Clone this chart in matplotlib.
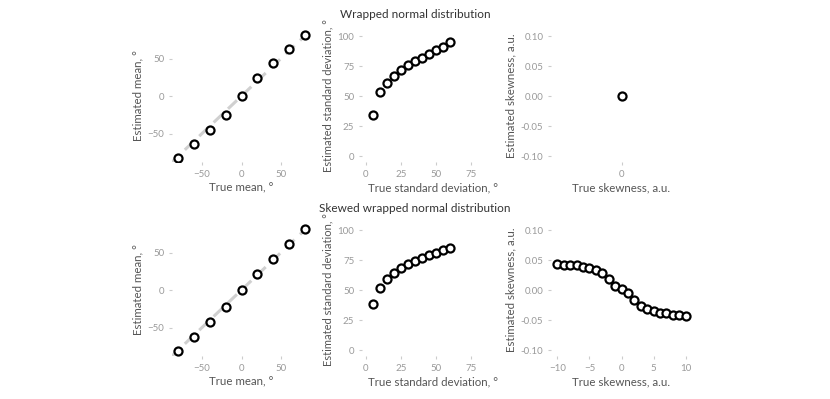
import matplotlib.pyplot as plt
import numpy as np

plt.rcParams["font.family"] = ["Lato", "DejaVu Sans"]

# Wrapped normal distribution (top row)
true_mean = [-80, -60, -40, -20, 0, 20, 40, 60, 80]
est_mean_wn = [-82, -64, -45, -25, 0, 24, 44, 63, 81]
true_sd = [5, 10, 15, 20, 25, 30, 35, 40, 45, 50, 55, 60]
est_sd_wn = [34, 53, 61, 67, 72, 76, 79, 82, 85, 88, 91, 95]
true_skew_wn = [0]
est_skew_wn = [0.0]

# Skewed wrapped normal distribution (bottom row)
est_mean_swn = [-81, -62, -42, -22, 0, 22, 42, 61, 81]
est_sd_swn = [38, 52, 59, 64, 68, 71.5, 74, 77, 79, 81, 83, 85]
true_skew = list(range(-10, 11))
est_skew_swn = [0.043, 0.0425, 0.042, 0.041, 0.039, 0.0366, 0.0328, 0.028,
                0.018, 0.0066, 0.001, -0.005, -0.016, -0.026, -0.032,
                -0.035, -0.038, -0.039, -0.041, -0.042, -0.043]

W, H = 830, 399
fig = plt.figure(figsize=(W / 100, H / 100), dpi=100)

cols = [(172, 311), (362, 503), (551, 692)]
rows = [(30, 162), (224, 356)]

TICK_C = "#9a9a9a"
LAB_C = "#555555"


def make_ax(r, c):
    x0, x1 = cols[c]
    y0, y1 = rows[r]
    ax = fig.add_axes([x0 / W, 1 - y1 / H, (x1 - x0) / W, (y1 - y0) / H])
    for s in ax.spines.values():
        s.set_visible(False)
    ax.tick_params(colors="#cccccc", labelcolor=TICK_C, labelsize=7,
                   length=2.5, width=0.8, pad=3)
    return ax


def scatter(ax, x, y):
    ax.plot(x, y, "o", ms=5.8, mfc="white", mec="black", mew=1.6,
            ls="none", zorder=3)


def label(ax, xl, yl):
    ax.set_xlabel(xl, fontsize=8.3, color=LAB_C, labelpad=3)
    ax.set_ylabel(yl, fontsize=8.3, color=LAB_C, labelpad=3)


data = [
    (est_mean_wn, est_sd_wn, true_skew_wn, est_skew_wn),
    (est_mean_swn, est_sd_swn, true_skew, est_skew_swn),
]

for r, (em, es, tk, ek) in enumerate(data):
    ax = make_ax(r, 0)
    ax.plot([-90, 80], [-90, 80], color="#d0d0d0", lw=2.2,
            dashes=(4, 2.5), zorder=1)
    scatter(ax, true_mean, em)
    ax.set_xlim(-88, 88)
    ax.set_ylim(-88, 88)
    ax.set_xticks([-50, 0, 50])
    ax.set_yticks([-50, 0, 50])
    label(ax, "True mean, °", "Estimated mean, °")

    ax = make_ax(r, 1)
    scatter(ax, true_sd, es)
    ax.set_xlim(-2.6, 97.8)
    ax.set_ylim(-5, 105)
    ax.set_xticks([0, 25, 50, 75])
    ax.set_yticks([0, 25, 50, 75, 100])
    label(ax, "True standard deviation, °", "Estimated standard deviation, °")
    ax.yaxis.label.set_fontsize(8.0)

    ax = make_ax(r, 2)
    scatter(ax, tk, ek)
    if r == 0:
        ax.set_xlim(-1, 1)
        ax.set_xticks([0])
    else:
        ax.set_xlim(-11, 11)
        ax.set_xticks([-10, -5, 0, 5, 10])
    ax.set_ylim(-0.11, 0.11)
    ax.set_yticks([-0.10, -0.05, 0.0, 0.05, 0.10])
    ax.set_yticklabels(["-0.10", "-0.05", "0.00", "0.05", "0.10"])
    label(ax, "True skewness, a.u.", "Estimated skewness, a.u.")

fig.text(0.5, 1 - 15 / H, "Wrapped normal distribution", ha="center",
         va="center", fontsize=8.5, color="#333333")
fig.text(0.5, 1 - 208 / H, "Skewed wrapped normal distribution",
         ha="center", va="center", fontsize=8.5, color="#333333")

fig.savefig("out.png", dpi=100)
